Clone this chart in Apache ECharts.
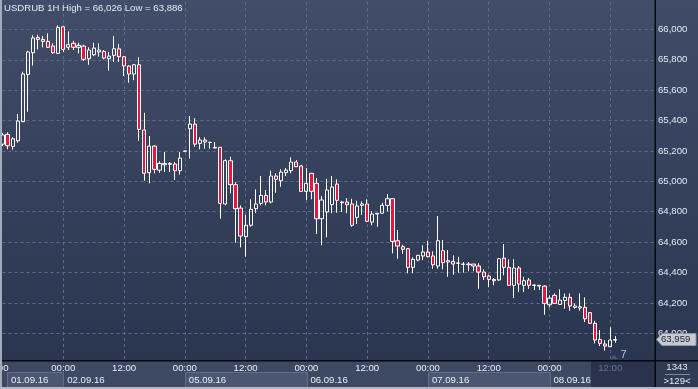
<!DOCTYPE html>
<html><head><meta charset="utf-8">
<script src="https://cdn.jsdelivr.net/npm/echarts@6/dist/echarts.min.js"></script>
<style>html,body{margin:0;padding:0;background:#2f3b55;}#c{width:698px;height:389px;}</style>
</head><body><div id="c"></div>
<script>
// ---- data (hourly candles from 01.09.16 12:00, weekend skipped) ----
const openV = [65245,65309,65230,65267,65393,65704,65846,65947,65934,65921,
65890,65842,66017,65882,65908,65882,65890,65807,65833,65851,
65855,65807,65829,65872,65820,65759,65706,65767,65338,65057,
65232,65074,65109,65112,65114,65070,65200,65346,65377,65250,
65272,65257,65224,65224,64851,65136,64978,64824,64636,64711,
64820,64855,64908,64864,65035,65004,65057,65070,65127,65101,
64934,65053,64987,64754,64798,64847,64982,64864,64864,64851,
64763,64842,64851,64732,64790,64790,64842,64886,64609,64570,
64557,64434,64482,64509,64535,64509,64443,64544,64469,64474,
64461,64454,64451,64456,64443,64403,64377,64346,64351,64495,
64434,64316,64430,64316,64351,64318,64316,64311,64188,64250,
64190,64216,64237,64171,64175,64171,64136,64066,63960,63930,
63912,63955];
const closeV = [65305,65234,65280,65397,65706,65851,65943,65934,65921,65882,
65846,66013,65868,65899,65882,65895,65803,65864,65877,65864,
65811,65824,65872,65820,65759,65706,65767,65342,65053,65232,
65079,65118,65118,65118,65070,65153,65198,65377,65245,65272,
65259,65256,65219,64855,65136,64978,64820,64640,64711,64816,
64851,64908,64864,65035,65013,65061,65074,65127,65096,64934,
64987,64934,64754,64877,64943,64963,64875,64859,64846,64711,
64838,64851,64737,64785,64785,64842,64886,64605,64574,64553,
64434,64487,64513,64535,64504,64451,64609,64465,64478,64456,
64463,64456,64456,64443,64403,64372,64355,64355,64491,64434,
64316,64430,64324,64346,64316,64316,64311,64197,64232,64197,
64219,64237,64180,64180,64166,64096,64066,63956,63934,63916,
63956,63959];
const lowV = [65232,65211,65208,65254,65390,65458,65761,65868,65882,65878,
65838,65838,65851,65864,65864,65842,65793,65767,65824,65820,
65803,65728,65785,65785,65693,65649,65666,65267,65004,64987,
65053,65057,65061,65061,65009,65044,65197,65149,65228,65211,
65215,65215,65219,64754,64842,64921,64596,64566,64504,64701,
64793,64842,64842,64855,64925,64964,65035,65053,65096,64934,
64877,64882,64653,64579,64632,64790,64793,64798,64790,64701,
64719,64780,64732,64711,64701,64790,64803,64526,64491,64522,
64395,64395,64474,64482,64500,64425,64425,64421,64372,64386,
64399,64399,64408,64408,64293,64351,64303,64316,64346,64382,
64311,64232,64272,64272,64293,64285,64285,64122,64171,64196,
64188,64162,64149,64162,64149,64074,64061,63934,63916,63886,
63912,63938];
const highV = [65318,65322,65290,65443,65721,65859,65961,65965,65956,65974,
65908,66026,66024,65987,65925,65912,65899,65882,65912,65908,
65864,65851,65956,65903,65824,65763,65772,65816,65451,65298,
65237,65132,65193,65127,65127,65193,65201,65430,65416,65290,
65290,65259,65259,65224,65145,65162,64995,64842,64780,64882,
64947,65035,64943,65070,65053,65079,65087,65158,65140,65109,
65087,65053,65022,64903,65017,65035,65013,64872,64890,64886,
64872,64868,64882,64803,64790,64859,64916,64886,64680,64583,
64561,64500,64517,64579,64609,64540,64772,64614,64548,64513,
64504,64469,64469,64456,64461,64421,64386,64364,64491,64588,
64487,64487,64443,64372,64364,64320,64316,64316,64250,64263,
64289,64262,64263,64197,64263,64237,64140,64083,64022,63956,
64040,63982];
// time tick labels at every 12th candle (index 0,12,...,120)
const tickLabels = ['12:00','00:00','12:00','00:00','12:00','00:00','12:00','00:00','12:00','00:00','12:00'];
const dayLabels = ['01.09.16','02.09.16','05.09.16','06.09.16','07.09.16','08.09.16'];
const dayStart = [-12, 12, 36, 60, 84, 108];
const titleText = 'USDRUB 1H High = 66,026 Low = 63,886';
const lastPrice = 63959;
const counterTop = '1343';
const counterBottom = '>129<';
const badge = '7';

const candles = openV.map((o, i) => [i, o, closeV[i], lowV[i], highV[i]]);
const FONT = '"Liberation Sans", Arial, sans-serif';
const FS = 9.6;
const fmt = v => Math.floor(v / 1000) + ',' + String(v % 1000).padStart(3, '0');
const LG = (a, b) => new echarts.graphic.LinearGradient(0, 0, 0, 1, [{offset: 0, color: a}, {offset: 1, color: b}]);

const chart = echarts.init(document.getElementById('c'), null, {renderer: 'canvas', width: 698, height: 389, devicePixelRatio: 1});

const gridLine = {color: '#5d6b8a', width: 1, type: [3, 3]};
const option = {
  animation: false,
  backgroundColor: '#2f3b55',
  title: {text: titleText, left: 4, top: 3, padding: 0, textStyle: {color: '#e4eaf4', fontSize: FS, fontWeight: 'normal', fontFamily: FONT}},
  grid: {left: 2.5, top: 2, width: 652.5, height: 358.7, containLabel: false, outerBoundsMode: 'none'},
  xAxis: {
    type: 'value', min: 0, max: 128.83, interval: 12,
    axisLine: {show: false}, axisTick: {show: false},
    splitLine: {show: true, showMinLine: false, showMaxLine: false, lineStyle: gridLine},
    axisLabel: {
      margin: 3, fontSize: FS, color: '#e8eef8', fontFamily: FONT, showMinLabel: true, hideOverlap: false,
      formatter: v => {
        if (Math.abs(v % 12) > 1e-6) return '';
        const k = Math.round(v / 12);
        if (k === tickLabels.length - 1) return '{g|' + tickLabels[k] + '}';
        if (k === 0) return '{l|' + tickLabels[k] + '}';
        return tickLabels[k] || '';
      },
      rich: {g: {color: '#65718a', fontSize: FS, fontFamily: FONT}, l: {color: '#e8eef8', fontSize: FS, fontFamily: FONT, padding: [0, 12, 0, 0]}}
    }
  },
  yAxis: {
    type: 'value', position: 'right', min: 63820, max: 66180, splitNumber: 12, minInterval: 200, maxInterval: 200,
    axisLine: {show: false}, axisTick: {show: false},
    splitLine: {show: true, showMinLine: false, showMaxLine: false, lineStyle: gridLine},
    axisLabel: {margin: 3, align: 'left', fontSize: FS, color: '#e2eaf6', fontFamily: FONT,
      formatter: v => (v % 200 === 0 ? fmt(v) : '')}
  },
  series: [{
    type: 'candlestick', data: candles, barWidth: 3.7, clip: true,
    itemStyle: {color: 'rgba(0,0,0,0)', color0: '#e8163e', borderColor: '#ffffff', borderColor0: '#ffffff', borderColorDoji: '#ffffff', borderWidth: 1}
  }]
};
chart.setOption(option);

// decorations
const px = i => chart.convertToPixel({xAxisIndex: 0}, i);
const py = v => chart.convertToPixel({yAxisIndex: 0}, v);
const els = [
  {type: 'rect', z: -10, shape: {x: 0, y: 0, width: 655, height: 361}, style: {fill: LG('#414d69', '#2a354f')}},
  {type: 'rect', z: -10, shape: {x: 655, y: 0, width: 43, height: 361}, style: {fill: LG('#404c67', '#2b3650')}},
  {type: 'rect', z: -10, shape: {x: 0, y: 361, width: 698, height: 28}, style: {fill: '#3d4963'}},
  {type: 'rect', z: -9, shape: {x: 591, y: 361, width: 64, height: 26}, style: {fill: '#29334b'}},
  {type: 'rect', z: -9, shape: {x: 656, y: 361, width: 42, height: 26}, style: {fill: '#2f3a53'}}
];
for (let k = 0; k < dayLabels.length; k++) {
  const x0 = Math.max(px(dayStart[k]), 7);
  const x1 = k + 1 < dayStart.length ? px(dayStart[k + 1]) : 591;
  if (k % 2 === 0) {
    els.push({type: 'rect', z: -8, shape: {x: Math.round(x0) + 0.5, y: 372.5, width: Math.round(x1 - x0), height: 15},
      style: {fill: '#4b5772', stroke: '#616d89', lineWidth: 1}});
  }
  els.push({type: 'text', z: 5, style: {text: dayLabels[k], x: x0 + 4, y: 380, align: 'left', verticalAlign: 'middle', fill: '#e8eef8', font: FS + 'px ' + FONT}});
}
const yp = py(lastPrice);
els.push(
  {type: 'rect', z: 100, shape: {x: 654.5, y: 0, width: 1.5, height: 389}, style: {fill: '#05080f'}},
  {type: 'rect', z: 100, shape: {x: 0, y: 360, width: 698, height: 1.5}, style: {fill: '#05080f'}},
  {type: 'rect', z: 100, shape: {x: 0, y: 0, width: 2, height: 389}, style: {fill: '#a3abb9'}},
  {type: 'rect', z: 100, shape: {x: 0, y: 387, width: 698, height: 2}, style: {fill: '#b3bac6'}},
  {type: 'polygon', z: 100, shape: {points: [[656.5, yp], [662, yp - 6], [696, yp - 6], [696, yp + 6], [662, yp + 6]]},
    style: {fill: '#c8cbd1', stroke: '#8e96a4', lineWidth: 1}},
  {type: 'text', z: 101, style: {text: fmt(lastPrice), x: 661, y: yp, align: 'left', verticalAlign: 'middle', fill: '#1c2230', font: FS + 'px ' + FONT}},
  {type: 'text', z: 101, style: {text: counterTop, x: 677, y: 367.5, align: 'center', verticalAlign: 'middle', fill: '#e2e9f5', font: FS + 'px ' + FONT}},
  {type: 'rect', z: 101, shape: {x: 665, y: 374, width: 25, height: 1}, style: {fill: '#7d889e'}},
  {type: 'text', z: 101, style: {text: counterBottom, x: 677, y: 381.5, align: 'center', verticalAlign: 'middle', fill: '#e2e9f5', font: FS + 'px ' + FONT}},
  {type: 'text', z: 101, style: {text: badge, x: 623.5, y: 355, align: 'center', verticalAlign: 'middle', fill: '#9ccaf2', font: '11px ' + FONT}},
  {type: 'polygon', z: 101, shape: {points: [[610, 359], [614, 355], [618, 359]]}, style: {fill: '#4c5568'}}
);
chart.setOption({graphic: {elements: els}});
</script>
</body></html>
